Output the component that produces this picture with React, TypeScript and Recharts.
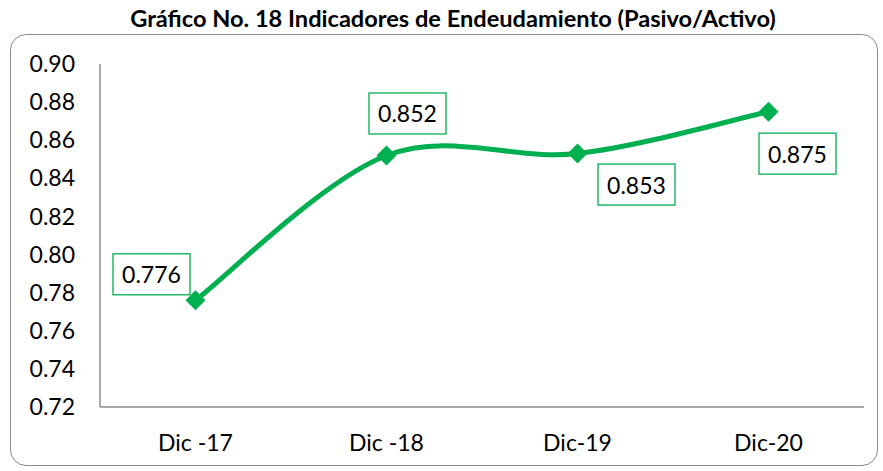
import React from 'react';
import { LineChart, Line, XAxis, YAxis, LabelList } from 'recharts';

const categories = ['Dic -17', 'Dic -18', 'Dic-19', 'Dic-20'];
const ratios = [0.776, 0.852, 0.853, 0.875];
const yTicks = [0.72, 0.74, 0.76, 0.78, 0.8, 0.82, 0.84, 0.86, 0.88, 0.9];
const labelOffsets = [
  [-44, -26],
  [21, -42],
  [59, 31],
  [29, 42],
];

const data = categories.map((c, i) => ({ name: c, value: ratios[i] }));

const GREEN = '#00B050';
const FONT = 'Lato, "Open Sans", sans-serif';

// Catmull-Rom style smoothing (similar to Excel's smoothed line)
function smoothCurve(context: any) {
  let pts: number[][] = [];
  return {
    areaStart() {},
    areaEnd() {},
    lineStart() {
      pts = [];
    },
    point(x: number, y: number) {
      pts.push([+x, +y]);
    },
    lineEnd() {
      if (!pts.length) return;
      context.moveTo(pts[0][0], pts[0][1]);
      for (let i = 0; i < pts.length - 1; i++) {
        const p0 = pts[i - 1] || pts[i];
        const p1 = pts[i];
        const p2 = pts[i + 1];
        const p3 = pts[i + 2] || p2;
        const c1x = p1[0] + (p2[0] - p0[0]) / 6;
        const c1y = p1[1] + (p2[1] - p0[1]) / 6;
        const c2x = p2[0] - (p3[0] - p1[0]) / 6;
        const c2y = p2[1] - (p3[1] - p1[1]) / 6;
        context.bezierCurveTo(c1x, c1y, c2x, c2y, p2[0], p2[1]);
      }
    },
  };
}

const Diamond = (props: any) => {
  const { cx, cy } = props;
  if (cx == null || cy == null) return null;
  const r = 10;
  return (
    <path
      d={`M${cx},${cy - r}L${cx + r},${cy}L${cx},${cy + r}L${cx - r},${cy}Z`}
      fill={GREEN}
      stroke="none"
    />
  );
};

const BoxLabel = (props: any) => {
  const { x, y, value, index } = props;
  const [dx, dy] = labelOffsets[index] || [0, 0];
  const w = 77;
  const h = 41;
  const cx = x + dx;
  const cy = y + dy;
  return (
    <g>
      <rect x={cx - w / 2} y={cy - h / 2} width={w} height={h} fill="#fff" stroke={GREEN} strokeWidth={1.3} />
      <text x={cx} y={cy} textAnchor="middle" dominantBaseline="central" fontSize={23} fontFamily={FONT} fill="#000">
        {Number(value).toFixed(3)}
      </text>
    </g>
  );
};

export default function App() {
  return (
    <div style={{ position: 'absolute', left: 0, top: 0, width: 883, height: 471, background: '#fff' }}>
      <div
        style={{
          position: 'absolute',
          left: 10,
          top: 34,
          width: 868,
          height: 432,
          border: '1.5px solid #8c8c8c',
          borderRadius: 16,
          boxSizing: 'border-box',
        }}
      />
      <div
        style={{
          position: 'absolute',
          left: 0,
          top: 3,
          width: 906,
          textAlign: 'center',
          fontFamily: FONT,
          fontWeight: 'bold',
          fontSize: 23.6,
          lineHeight: '30px',
          color: '#000',
        }}
      >
        Gráfico No. 18 Indicadores de Endeudamiento (Pasivo/Activo)
      </div>
      <div style={{ position: 'absolute', left: 0, top: 0 }}>
        <LineChart width={883} height={471} data={data} margin={{ top: 64, right: 19, bottom: 24, left: 0 }}>
          <XAxis
            dataKey="name"
            height={40}
            padding={{ left: 95.5, right: 95.5 }}
            tickLine={false}
            tickSize={0}
            tickMargin={28}
            axisLine={{ stroke: '#8c8c8c', strokeWidth: 1.5 }}
            tick={{ fill: '#000', fontSize: 23, fontFamily: FONT }}
          />
          <YAxis
            width={100}
            domain={[0.72, 0.9]}
            ticks={yTicks}
            tickFormatter={(v: number) => v.toFixed(2)}
            tickLine={false}
            tickSize={0}
            tickMargin={25}
            axisLine={{ stroke: '#8c8c8c', strokeWidth: 1.5 }}
            tick={{ fill: '#000', fontSize: 23, fontFamily: FONT }}
            interval={0}
          />
          <Line
            dataKey="value"
            type={smoothCurve as any}
            stroke={GREEN}
            strokeWidth={5}
            dot={<Diamond />}
            activeDot={false}
            isAnimationActive={false}
          >
            <LabelList dataKey="value" content={<BoxLabel />} />
          </Line>
        </LineChart>
      </div>
    </div>
  );
}
